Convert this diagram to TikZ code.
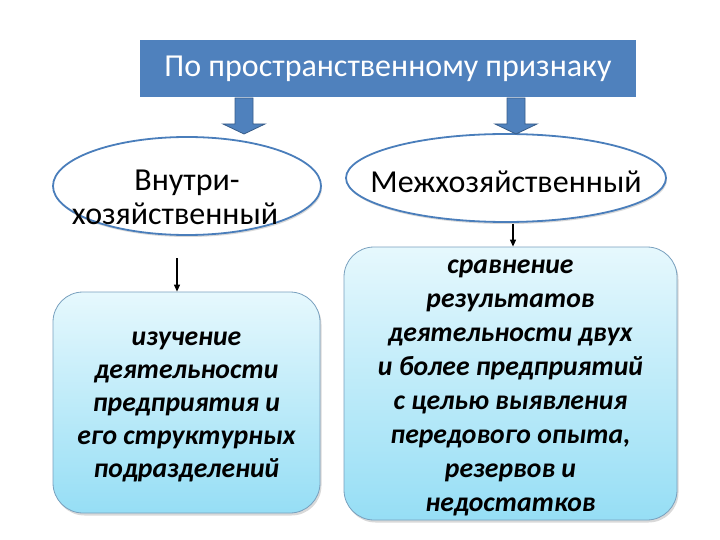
\documentclass[tikz,border=0pt]{standalone}
\usepackage{fontspec}
\setmainfont{Carlito}
\usetikzlibrary{shapes.geometric,shadows,arrows.meta}
\definecolor{titleblue}{RGB}{79,129,189}
\definecolor{arrowblue}{RGB}{79,129,189}
\definecolor{arrowedge}{RGB}{56,93,138}
\definecolor{ellipseedge}{RGB}{74,126,187}
\definecolor{boxtop}{RGB}{230,248,253}
\definecolor{boxbottom}{RGB}{150,222,245}
\definecolor{boxedge}{RGB}{120,160,190}
\tikzset{
  titlebox/.style={rectangle, fill=titleblue, text=white, minimum width=496pt, minimum height=57pt, inner sep=0pt, font=\fontsize{32}{36}\selectfont},
  oval/.style={ellipse, draw=ellipseedge, line width=1.8pt, fill=white, inner sep=0pt, drop shadow={shadow xshift=1pt, shadow yshift=-2pt, opacity=0.3}},
  ovaltext/.style={align=center, font=\fontsize{32}{34}\selectfont, inner sep=0pt},
  infobox/.style={rectangle, rounded corners=30pt, draw=boxedge, line width=0.8pt, top color=boxtop, bottom color=boxbottom, inner sep=0pt, drop shadow={shadow xshift=1.5pt, shadow yshift=-2.5pt, opacity=0.3}},
  infotext/.style={align=center, inner sep=0pt},
  blockarrow/.style={fill=arrowblue, draw=arrowedge, line width=0.8pt, line join=miter},
  thinarrow/.style={draw=black, line width=1.2pt, -{Triangle[length=7pt,width=6pt]}}
}
\begin{document}
\begin{tikzpicture}[x=1pt,y=-1pt]
\useasboundingbox (0,0) rectangle (720,540);
% title
\node[titlebox] (t) at (388,68.5) {По пространственному признаку};
% ovals
\node[oval, minimum width=268pt, minimum height=98pt] (e1) at (187,186) {};
\node[oval, minimum width=320pt, minimum height=88pt] (e2) at (506,178) {};
\node[ovaltext] (e1t) at (175,197) {\hspace*{24pt}Внутри-\\хозяйственный};
\node[ovaltext] (e2t) at (506,182) {Межхозяйственный};
% block arrows
\coordinate (a1) at (244,98);
\coordinate (a2) at (516,98);
\foreach \c in {a1,a2}{
  \draw[blockarrow] ([xshift=-9pt]\c) -- ([xshift=9pt]\c) -- ([xshift=9pt,yshift=-26pt]\c) -- ([xshift=21pt,yshift=-26pt]\c) -- ([yshift=-36pt]\c) -- ([xshift=-21pt,yshift=-26pt]\c) -- ([xshift=-9pt,yshift=-26pt]\c) -- cycle;
}
% boxes
\node[infobox, minimum width=267pt, minimum height=221pt] (b1) at (186.5,402.5) {};
\node[infobox, minimum width=333pt, minimum height=273pt] (b2) at (510.5,383.5) {};
\node[infotext, font=\fontsize{27.7}{33}\selectfont\bfseries\itshape] (b1t) at (186.5,407) {изучение\\деятельности\\предприятия и\\его структурных\\подразделений};
\node[infotext, font=\fontsize{27.7}{34}\selectfont\bfseries\itshape] (b2t) at (510.5,388) {сравнение\\результатов\\деятельности двух\\и более предприятий\\с целью выявления\\передового опыта,\\резервов и\\недостатков};
% thin arrows
\coordinate (s1) at (177,258);
\coordinate (s2) at (513,224);
\draw[thinarrow] (s1) -- (s1 |- b1.north);
\draw[thinarrow] (s2) -- (s2 |- b2.north);
\end{tikzpicture}
\end{document}
